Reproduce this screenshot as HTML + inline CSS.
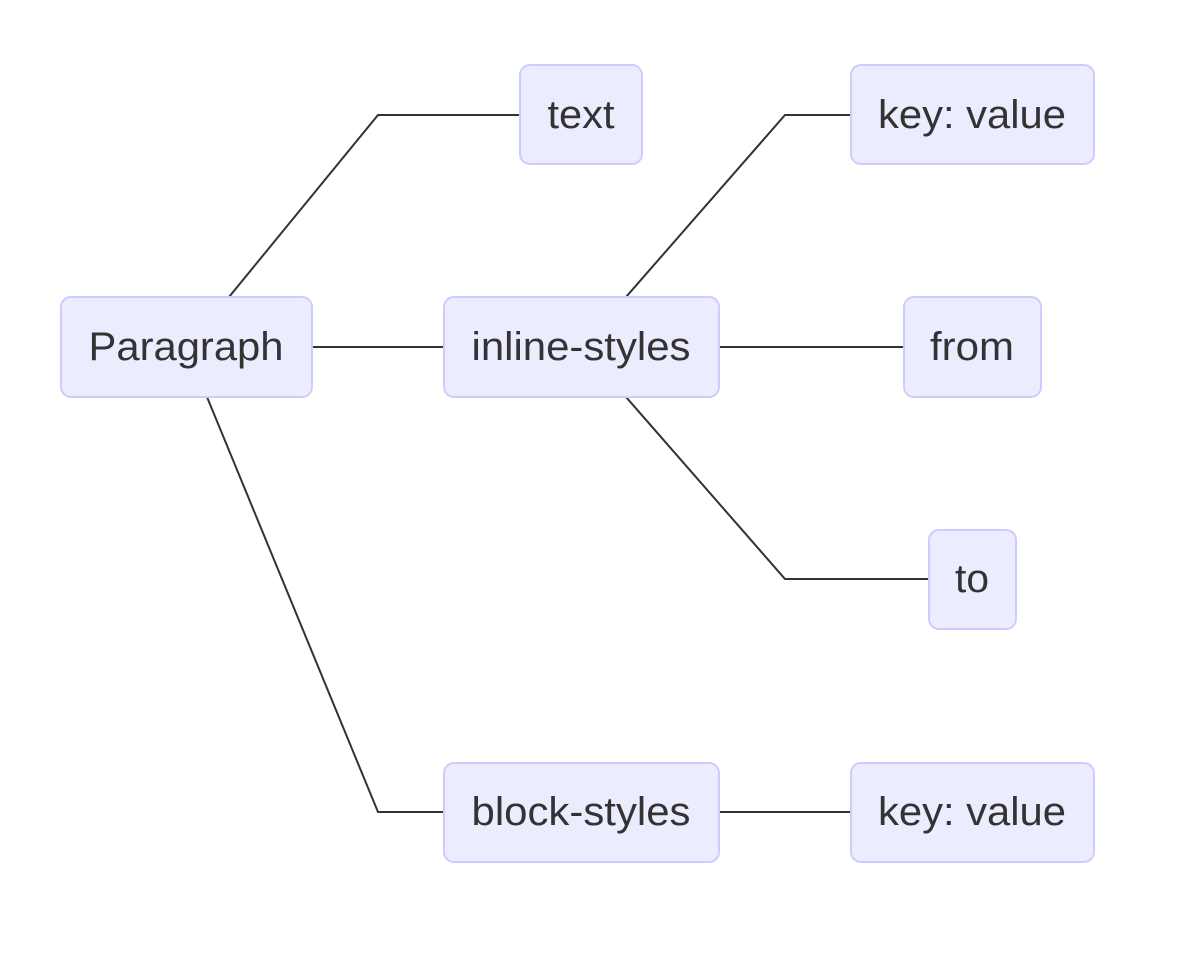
<!DOCTYPE html>
<html><head><meta charset="utf-8"><style>
html,body{margin:0;padding:0;background:#fff;}
svg{display:block;}
text{font-family:"Liberation Sans",Arial,sans-serif;font-size:40px;fill:#333;text-anchor:middle;dominant-baseline:central;}
rect{fill:#ECECFF;stroke:#CCCCFF;stroke-width:2;}
path{fill:none;stroke:#333;stroke-width:2;}
</style></head><body>
<svg width="1200" height="980" viewBox="0 0 1200 980">
<path d="M229,297 L378,115 L520,115"/>
<path d="M313,347 L444,347"/>
<path d="M207,397 L378,812 L444,812"/>
<path d="M626,297 L785,115 L851,115"/>
<path d="M719,347 L904,347"/>
<path d="M626,397 L785,579 L929,579"/>
<path d="M719,812 L851,812"/>
<rect x="61" y="297" width="251" height="100" rx="10"/><text x="186" y="347" textLength="195" lengthAdjust="spacingAndGlyphs">Paragraph</text>
<rect x="520" y="65" width="122" height="99" rx="10"/><text x="581" y="115" textLength="67" lengthAdjust="spacingAndGlyphs">text</text>
<rect x="444" y="297" width="275" height="100" rx="10"/><text x="581" y="347" textLength="219" lengthAdjust="spacingAndGlyphs">inline-styles</text>
<rect x="851" y="65" width="243" height="99" rx="10"/><text x="972" y="115" textLength="188" lengthAdjust="spacingAndGlyphs">key: value</text>
<rect x="904" y="297" width="137" height="100" rx="10"/><text x="972" y="347" textLength="84" lengthAdjust="spacingAndGlyphs">from</text>
<rect x="929" y="530" width="87" height="99" rx="10"/><text x="972" y="579" textLength="34" lengthAdjust="spacingAndGlyphs">to</text>
<rect x="444" y="763" width="275" height="99" rx="10"/><text x="581" y="812" textLength="219" lengthAdjust="spacingAndGlyphs">block-styles</text>
<rect x="851" y="763" width="243" height="99" rx="10"/><text x="972" y="812" textLength="188" lengthAdjust="spacingAndGlyphs">key: value</text>
</svg>
</body></html>
